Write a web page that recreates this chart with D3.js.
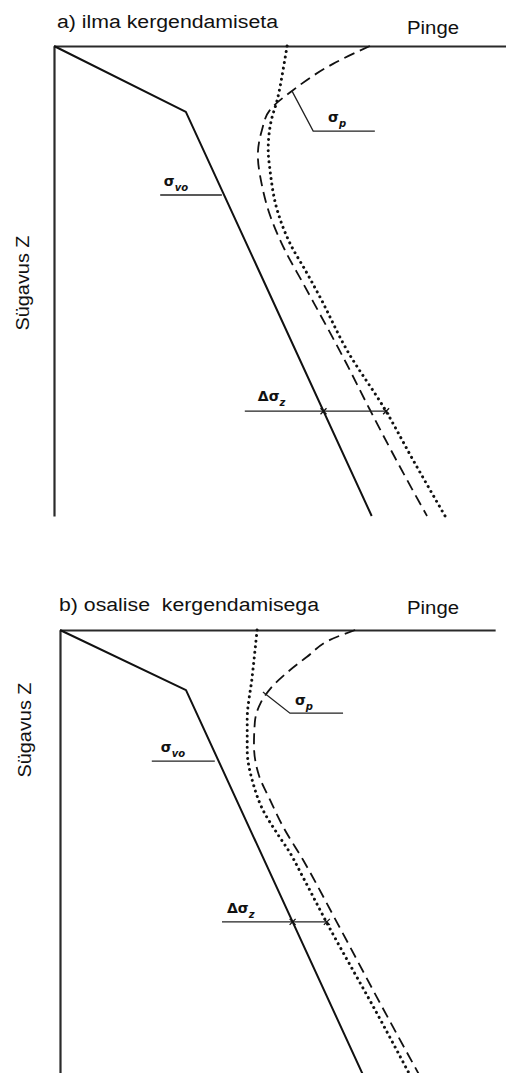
<!DOCTYPE html>
<html><head><meta charset="utf-8">
<script src="https://cdn.jsdelivr.net/npm/d3@7"></script>
<style>body{margin:0;background:#fff} svg{display:block}</style>
</head><body>
<svg id="c" width="506" height="1073"></svg>
<script>
// ---------- data (stress, depth) in relative units ----------
const panelTitles = ["a) ilma kergendamiseta", "b) osalise  kergendamisega"];
const stressLabel = "Pinge";
const depthLabel = "Sügavus Z";

// sigma_vo (solid line)
const sigmaVoA = [[0,0],[29.3,14.0],[70.6,100]];
const sigmaVoB = [[0,0],[28.0,12.8],[69.9,100]];

// sigma_p (dashed line)
const sigmaPA = [[70.2,0],[62.0,3.8],[53.1,9.4],[48.0,13.6],[46.2,17.9],[45.3,23.2],[46.2,29.6],[48.0,36.0],[51.3,43.4],[55.3,50.4],[64.9,67.4],[70.2,77.4],[76.4,88.7],[82.9,100]];
const sigmaPB = [[65.6,0],[60.0,2.1],[54.9,5.7],[50.4,9.1],[46.9,12.3],[44.6,15.5],[43.3,19.6],[43.1,24.5],[44.2,30.9],[46.7,36.2],[49.6,41.9],[54.0,48.9],[61.6,62.3],[70.4,78.1],[82.9,100]];

// sigma_vo + delta sigma_z (dotted line)
const sigmaZA = [[51.8,0],[50.9,5.1],[49.6,11.5],[48.2,16.2],[47.6,22.1],[48.0,26.4],[49.6,34.9],[52.4,41.9],[56.2,48.3],[59.1,53.4],[65.1,64.7],[73.6,77.4],[79.8,88.1],[86.9,100]];
const sigmaZB = [[43.8,0],[42.7,10.0],[41.6,19.1],[41.6,25.5],[42.9,32.6],[45.1,38.3],[48.2,43.2],[51.1,47.4],[54.0,52.6],[59.3,62.3],[70.4,81.5],[80.7,100]];

const stressAxisMax = [100.4, 96.7];
const depthAxisMax = [100, 100];

// annotation leaders (stress, depth)
const leaderSigmaPA = [[52.9,9.6],[57.6,18.1],[71.3,18.1]];
const leaderSigmaPB = [[45.1,13.2],[51.1,17.7],[62.9,17.7]];
const leaderSigmaVoA = [[23.6,31.7],[37.3,31.7]];
const leaderSigmaVoB = [[20.4,27.9],[34.4,27.9]];
const leaderDeltaA = [[42.4,77.7],[73.8,77.7]];
const leaderDeltaB = [[36.0,62.1],[59.3,62.1]];
const labelSigmaPA = [60.9,16.2], labelSigmaPB = [52.2,16.0];
const labelSigmaVoA = [24.4,29.8], labelSigmaVoB = [22.4,26.0];
const labelDeltaA = [45.3,75.5], labelDeltaB = [37.1,60.2];

// ---------- layout ----------
const layouts = [
  {x0:54, y0:46, titleXY:[57,28], pingeXY:[407,34], depthXY:[29,283], titleLen:221},
  {x0:60, y0:630, titleXY:[59,611], pingeXY:[407,614], depthXY:[31,730], titleLen:260}
];
const panels = [
  {vo:sigmaVoA, p:sigmaPA, z:sigmaZA, lp:leaderSigmaPA, lvo:leaderSigmaVoA, ld:leaderDeltaA, tp:labelSigmaPA, tvo:labelSigmaVoA, td:labelDeltaA},
  {vo:sigmaVoB, p:sigmaPB, z:sigmaZB, lp:leaderSigmaPB, lvo:leaderSigmaVoB, ld:leaderDeltaB, tp:labelSigmaPB, tvo:labelSigmaVoB, td:labelDeltaB}
];

const svg = d3.select("#c");
const font = "'Liberation Sans', Arial, sans-serif";

panels.forEach((P, i) => {
  const L = layouts[i];
  const x = d3.scaleLinear().domain([0,100]).range([L.x0, L.x0 + 450]);
  const y = d3.scaleLinear().domain([0,100]).range([L.y0, L.y0 + 470]);
  const g = svg.append("g");

  // axes (no ticks)
  const xa = d3.scaleLinear().domain([0, stressAxisMax[i]]).range([x(0), x(stressAxisMax[i])]);
  const ya = d3.scaleLinear().domain([0, depthAxisMax[i]]).range([y(0), y(depthAxisMax[i])]);
  const ax1 = g.append("g").attr("transform", `translate(0,${y(0)})`)
    .call(d3.axisTop(xa).tickValues([]).tickSizeOuter(0));
  const ax2 = g.append("g").attr("transform", `translate(${x(0)},0)`)
    .call(d3.axisLeft(ya).tickValues([]).tickSizeOuter(0));
  [ax1, ax2].forEach(a => a.select(".domain").attr("stroke", "#2a2a2a").attr("stroke-width", 2.2));

  const lin = d3.line().x(d => x(d[0])).y(d => y(d[1]));
  const smooth = d3.line().x(d => x(d[0])).y(d => y(d[1])).curve(d3.curveMonotoneY);

  g.append("path").attr("d", lin(P.vo)).attr("fill","none").attr("stroke","#111").attr("stroke-width",2).attr("stroke-linejoin","round");
  g.append("path").attr("d", smooth(P.p)).attr("fill","none").attr("stroke","#111").attr("stroke-width",1.8).attr("stroke-dasharray","11 6");
  g.append("path").attr("d", smooth(P.z)).attr("fill","none").attr("stroke","#111").attr("stroke-width",3).attr("stroke-dasharray","0.01 5.6").attr("stroke-linecap","round");

  // leaders
  [P.lp, P.lvo, P.ld].forEach(pts => {
    g.append("path").attr("d", lin(pts)).attr("fill","none").attr("stroke","#222").attr("stroke-width",1.3);
  });
  // small marks on delta line
  const dy0 = y(P.ld[0][1]);
  const seg = P.vo[1], seg2 = P.vo[2];
  const t = (P.ld[0][1] - seg[1]) / (seg2[1] - seg[1]);
  const xi = x(seg[0] + t * (seg2[0] - seg[0]));
  [xi, x(P.ld[1][0])].forEach(xx => {
    g.append("path").attr("d", `M${xx-3},${dy0-3}L${xx+3},${dy0+3}M${xx-3},${dy0+3}L${xx+3},${dy0-3}`)
      .attr("stroke","#111").attr("stroke-width",1.3);
  });

  // labels
  const lab = (pos, main, sub) => {
    const t = g.append("text").attr("x", x(pos[0])).attr("y", y(pos[1]))
      .attr("font-family", "'DejaVu Sans', sans-serif").attr("font-size", 14).attr("font-weight","bold").attr("fill","#111");
    t.append("tspan").text(main);
    t.append("tspan").attr("dy", 5).attr("font-size", 10).attr("font-style","italic").text(sub);
  };
  lab(P.tp, "σ", "p");
  lab(P.tvo, "σ", "vo");
  lab(P.td, "Δσ", "z");

  // texts
  g.append("text").attr("x", L.titleXY[0]).attr("y", L.titleXY[1])
    .attr("font-family", font).attr("font-size", 18).attr("fill","#111")
    .attr("textLength", L.titleLen).attr("lengthAdjust","spacingAndGlyphs")
    .attr("xml:space","preserve").style("white-space","pre")
    .text(panelTitles[i]);
  g.append("text").attr("x", L.pingeXY[0]).attr("y", L.pingeXY[1])
    .attr("font-family", font).attr("font-size", 18).attr("fill","#111")
    .attr("textLength", 52).attr("lengthAdjust","spacingAndGlyphs")
    .text(stressLabel);
  g.append("text").attr("transform", `translate(${L.depthXY[0]},${L.depthXY[1]}) rotate(-90)`)
    .attr("text-anchor","middle")
    .attr("font-family", font).attr("font-size", 18).attr("fill","#111")
    .attr("textLength", 95).attr("lengthAdjust","spacingAndGlyphs")
    .text(depthLabel);
});
</script>
</body></html>
